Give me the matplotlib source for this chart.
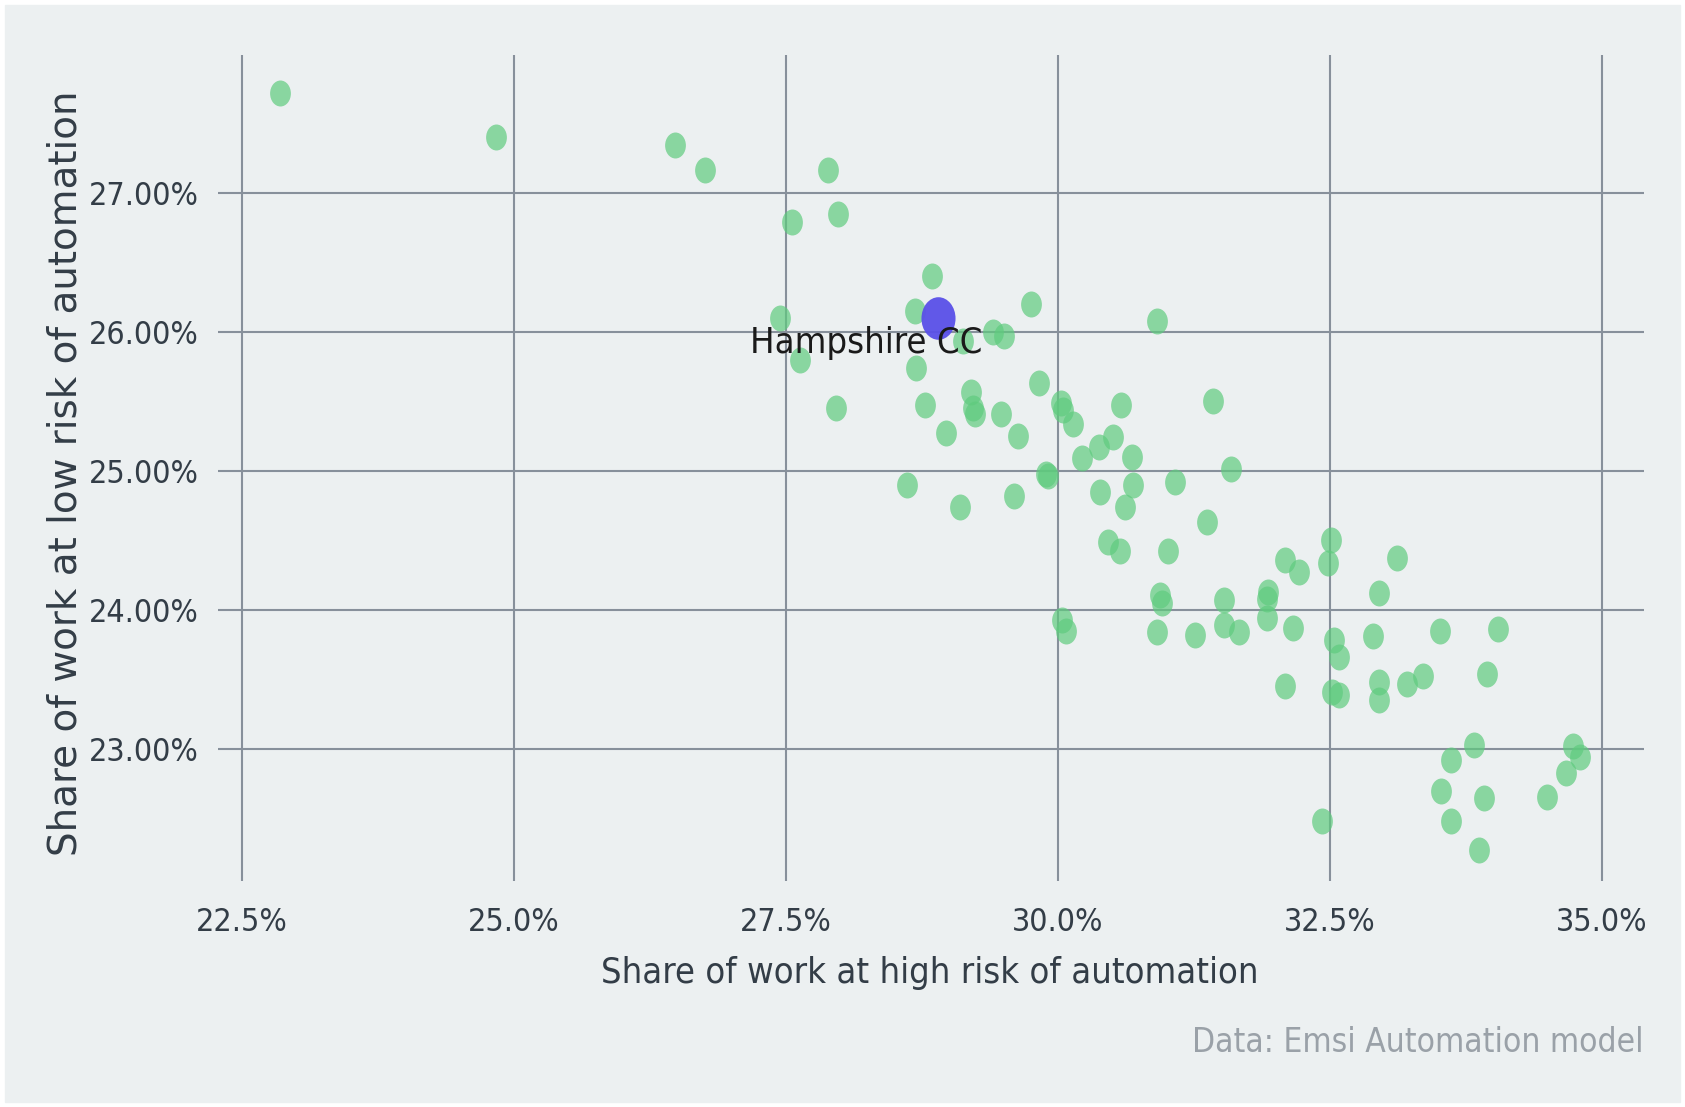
import numpy as np
import matplotlib.pyplot as plt
from matplotlib.path import Path
from matplotlib.transforms import Affine2D
from matplotlib.patches import Rectangle
from matplotlib.ticker import FuncFormatter

# share of work at high / low risk of automation (%), one entry per area
high_risk = [22.85, 24.84, 26.48, 26.76, 27.89, 27.56, 27.98, 28.84, 28.69, 27.445,
             27.635, 29.75, 29.405, 29.51, 30.91, 29.13, 28.70, 27.96, 28.78, 29.20,
             29.22, 29.24, 29.48, 28.97, 29.635, 29.83, 30.03, 30.045, 30.14, 30.585,
             30.51, 30.38, 30.22, 30.68, 30.69, 30.62, 31.08, 29.89, 29.91, 28.61,
             29.10, 29.60, 30.39, 30.46, 30.57, 31.01, 31.43, 31.59, 31.37, 32.515,
             32.485, 32.09, 32.215, 33.12, 32.95, 30.94, 30.96, 31.53, 31.93, 31.92,
             31.925, 31.53, 31.67, 32.165, 31.265, 30.91, 30.035, 30.08, 32.54, 32.585,
             32.90, 33.51, 34.05, 33.945, 32.09, 32.52, 32.59, 32.955, 32.955, 33.21,
             33.36, 32.43, 33.83, 33.62, 33.52, 33.92, 33.62, 33.87, 34.74, 34.80,
             34.675, 34.50]
low_risk = [27.72, 27.40, 27.34, 27.16, 27.16, 26.79, 26.85, 26.40, 26.15, 26.10,
            25.80, 26.20, 26.00, 25.97, 26.08, 25.93, 25.74, 25.45, 25.47, 25.57,
            25.45, 25.41, 25.41, 25.27, 25.25, 25.63, 25.49, 25.44, 25.34, 25.47,
            25.245, 25.17, 25.09, 25.10, 24.90, 24.74, 24.92, 24.98, 24.96, 24.90,
            24.74, 24.82, 24.85, 24.49, 24.42, 24.42, 25.50, 25.01, 24.63, 24.50,
            24.34, 24.36, 24.27, 24.37, 24.12, 24.11, 24.05, 24.07, 24.13, 24.08,
            23.94, 23.89, 23.84, 23.87, 23.82, 23.84, 23.93, 23.85, 23.78, 23.66,
            23.81, 23.85, 23.86, 23.54, 23.45, 23.41, 23.39, 23.48, 23.35, 23.465,
            23.525, 22.48, 23.03, 22.92, 22.70, 22.65, 22.48, 22.27, 23.02, 22.94,
            22.83, 22.655]

focus_name = 'Hampshire CC'
focus_high = 28.90
focus_low = 26.10

x_ticks = [22.5, 25.0, 27.5, 30.0, 32.5, 35.0]
y_ticks = [23, 24, 25, 26, 27]

bg = '#ecf0f1'
grid_col = '#87909b'
text_col = '#333d47'
cond = dict(family='DejaVu Sans', fontstretch='condensed')

W, H = 1685, 1107
fig = plt.figure(figsize=(W / 100, H / 100), dpi=100, facecolor='white')
fig.patches.append(Rectangle((5 / W, 5 / H), 1 - 10 / W, 1 - 10 / H,
                             transform=fig.transFigure, color=bg, zorder=-10))
ax = fig.add_axes([218 / W, 1 - 881 / H, (1644 - 218) / W, (881 - 55) / H])
ax.set_facecolor(bg)

ellipse = Path.unit_circle().transformed(Affine2D().scale(0.8, 1.0))
ax.scatter(high_risk, low_risk, s=350, marker=ellipse, color='#5fcb7e',
           alpha=0.7, linewidths=0, zorder=3)
ax.scatter([focus_high], [focus_low], s=940, marker=ellipse, color='#5a50e8',
           alpha=0.95, linewidths=0, zorder=4)
ax.annotate(focus_name, (focus_high, focus_low), xytext=(-72, -25),
            textcoords='offset pixels', ha='center', va='center',
            fontsize=26, color='#1a1a1a', zorder=5, **cond)

ax.set_xlim(22.28, 35.39)
ax.set_ylim(22.05, 27.99)
ax.set_xticks(x_ticks)
ax.set_yticks(y_ticks)
ax.xaxis.set_major_formatter(FuncFormatter(lambda v, p: f'{v:.1f}%'))
ax.yaxis.set_major_formatter(FuncFormatter(lambda v, p: f'{v:.2f}%'))
ax.grid(True, color=grid_col, linewidth=1.5)
ax.set_axisbelow(True)
for s in ax.spines.values():
    s.set_visible(False)
ax.tick_params(length=0, colors=text_col)
ax.tick_params(axis='x', pad=19)
ax.tick_params(axis='y', pad=14)
for lab in ax.get_xticklabels():
    lab.set_fontsize(23)
    lab.set_family(cond['family'])
    lab.set_fontstretch('condensed')
for lab in ax.get_yticklabels():
    lab.set_fontsize(23)
    lab.set_family(cond['family'])
    lab.set_fontstretch('condensed')

ax.set_xlabel('Share of work at high risk of automation', fontsize=26,
              color=text_col, va='center', **cond)
ax.xaxis.set_label_coords(0.499, -0.111)
ax.set_ylabel('Share of work at low risk of automation', fontsize=28,
              color=text_col, family='DejaVu Sans', va='center')
ax.yaxis.set_label_coords(-0.107, 0.494)

fig.text(1644 / W, 1 - 1042 / H, 'Data: Emsi Automation model', ha='right',
         va='center', fontsize=24, color='#9aa1a8', **cond)

fig.savefig('out.png', dpi=100, facecolor=fig.get_facecolor())
